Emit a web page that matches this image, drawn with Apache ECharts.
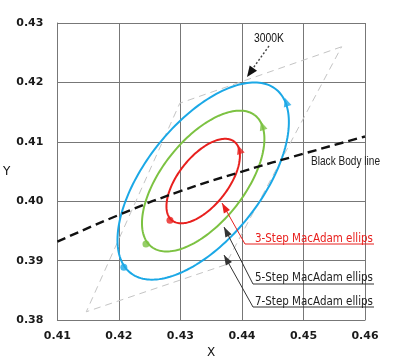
<!DOCTYPE html>
<html>
<head>
<meta charset="utf-8">
<script src="https://cdn.jsdelivr.net/npm/echarts@6/dist/echarts.min.js"></script>
<style>html,body{margin:0;padding:0;background:#fff}#c{width:400px;height:364px}</style>
</head>
<body>
<div id="c"></div>
<script>
// ---- data ----
const xTicks = [0.41, 0.42, 0.43, 0.44, 0.45, 0.46];
const yTicks = [0.38, 0.39, 0.40, 0.41, 0.42, 0.43];
const ellipseNames = ['3-Step', '5-Step', '7-Step'];
const ellipseCenterX = [0.4337, 0.4337, 0.4337];
const ellipseCenterY = [0.4034, 0.4034, 0.4034];
const ellipseMajor = [0.00834, 0.0139, 0.01946];
const ellipseMinor = [0.00408, 0.0068, 0.00952];
const ellipseAngle = [53.2, 53.2, 53.2];
const dotX = [0.4283, 0.4244, 0.4208];
const dotY = [0.3968, 0.3928, 0.3889];
const arrowX = [0.4396, 0.4433, 0.4472];
const arrowY = [0.4087, 0.4127, 0.4167];
const bbX = [0.41, 0.42, 0.43, 0.44, 0.45, 0.46];
const bbY = [0.3932, 0.3977, 0.4017, 0.4050, 0.4080, 0.4109];
const quadX = [0.4562, 0.4299, 0.4147, 0.4373, 0.4562];
const quadY = [0.4260, 0.4165, 0.3814, 0.3893, 0.4260];

// ---- styles ----
const ellColors = ['#e8201e', '#7cc242', '#1ba8e6'];
const measureCtx = document.createElement('canvas').getContext('2d');

function arrowHead(tip, from, len, hw) {
  const dx = tip[0] - from[0], dy = tip[1] - from[1];
  const L = Math.sqrt(dx * dx + dy * dy);
  const ux = dx / L, uy = dy / L;
  const bx = tip[0] - ux * len, by = tip[1] - uy * len;
  return [tip, [bx - uy * hw, by + ux * hw], [bx + uy * hw, by - ux * hw]];
}
function leader(tip, elbow, end, color) {
  return [
    { type: 'polyline', z: 100, shape: { points: [tip, elbow, end] }, style: { stroke: color, lineWidth: 1, fill: null } },
    { type: 'polygon', z: 101, shape: { points: arrowHead(tip, elbow, 10, 3.5) }, style: { fill: color } }
  ];
}
function label(text, x, y, color, width, font) {
  measureCtx.font = font;
  const sx = width / measureCtx.measureText(text).width;
  return { type: 'text', z: 102, x: x, y: y, scaleX: sx,
    style: { text: text, x: 0, y: 0, font: font, fill: color, align: 'left', verticalAlign: 'middle' } };
}

const ellipseData = ellipseNames.map((n, i) => [ellipseCenterX[i], ellipseCenterY[i], ellipseMajor[i], ellipseMinor[i], ellipseAngle[i]]);

const annFont = '12.5px "DejaVu Sans", sans-serif';
const lightFont = '13px "Liberation Sans", Arial, sans-serif';

const graphics = [].concat(
  [
    { type: 'line', z: 100, shape: { x1: 269, y1: 46, x2: 251, y2: 71 }, style: { stroke: '#444', lineWidth: 1.4, lineDash: [2, 2] } },
    { type: 'polygon', z: 101, shape: { points: arrowHead([247, 77], [269, 46], 11, 4.5) }, style: { fill: '#111' } },
    label('3000K', 254, 38, '#111', 30, lightFont),
    label('Black Body line', 311, 161, '#222', 69, lightFont)
  ],
  leader([222, 203], [245, 244], [374, 244], '#e8201e'),
  leader([224, 227], [253, 284], [374, 284], '#333'),
  leader([224, 255], [253, 307], [374, 307], '#333'),
  [
    label('3-Step MacAdam ellips', 255, 238.5, '#e8201e', 118, annFont),
    label('5-Step MacAdam ellips', 255, 278, '#222', 118, annFont),
    label('7-Step MacAdam ellips', 255, 301.5, '#222', 118, annFont)
  ]
);

const tickFont = { fontSize: 11, fontWeight: 'bold', color: '#1a1a1a', fontFamily: 'DejaVu Sans' };

const chart = echarts.init(document.getElementById('c'), null, { renderer: 'canvas' });
chart.setOption({
  animation: false,
  backgroundColor: '#fff',
  grid: { left: 56, right: 35, top: 23, bottom: 43 },
  xAxis: {
    type: 'value', min: xTicks[0], max: xTicks[xTicks.length - 1], interval: 0.01,
    name: 'X', nameLocation: 'middle', nameGap: 21,
    nameTextStyle: { fontSize: 12, color: '#111', fontFamily: 'DejaVu Sans' },
    axisLine: { show: true, lineStyle: { color: '#777', width: 1 } },
    axisTick: { show: false },
    splitLine: { show: true, lineStyle: { color: '#777', width: 1 } },
    axisLabel: Object.assign({ margin: 11, formatter: v => v.toFixed(2) }, tickFont)
  },
  yAxis: {
    type: 'value', min: yTicks[0], max: yTicks[yTicks.length - 1], interval: 0.01,
    name: 'Y', nameLocation: 'middle', nameGap: 27, nameRotate: 0,
    nameTextStyle: { fontSize: 12, color: '#111', fontFamily: 'DejaVu Sans' },
    axisLine: { show: true, lineStyle: { color: '#777', width: 1 } },
    axisTick: { show: false },
    splitLine: { show: true, lineStyle: { color: '#777', width: 1 } },
    axisLabel: Object.assign({ margin: 14, formatter: v => v.toFixed(2) }, tickFont)
  },
  series: [
    {
      type: 'line', name: 'quad', z: 2, symbol: 'none', silent: true,
      data: quadX.map((x, i) => [x, quadY[i]]),
      lineStyle: { color: '#c4c4c4', width: 1, type: [7, 5] }
    },
    {
      type: 'custom', name: 'ellipses', z: 3, silent: true,
      data: ellipseData,
      encode: { x: 0, y: 1 },
      renderItem: function (params, api) {
        const cx = api.value(0), cy = api.value(1), a = api.value(2), b = api.value(3);
        const t0 = api.value(4) * Math.PI / 180;
        const pts = [];
        const N = 180;
        for (let k = 0; k <= N; k++) {
          const t = k / N * Math.PI * 2;
          const x = cx + a * Math.cos(t0) * Math.cos(t) - b * Math.sin(t0) * Math.sin(t);
          const y = cy + a * Math.sin(t0) * Math.cos(t) + b * Math.cos(t0) * Math.sin(t);
          pts.push(api.coord([x, y]));
        }
        return { type: 'polyline', shape: { points: pts }, style: { stroke: ellColors[params.dataIndex], lineWidth: 2, fill: null } };
      }
    },
    {
      type: 'line', name: 'Black Body line', z: 5, symbol: 'none', smooth: true, silent: true,
      data: bbX.map((x, i) => [x, bbY[i]]),
      lineStyle: { color: '#111', width: 2.4, type: [9, 5] }
    },
    {
      type: 'scatter', name: 'dots', z: 6, silent: true, symbol: 'circle', symbolSize: 7,
      data: dotX.map((x, i) => ({ value: [x, dotY[i]], itemStyle: { color: ellColors[i] } }))
    },
    {
      type: 'scatter', name: 'arrows', z: 6, silent: true, symbol: 'triangle', symbolSize: [8, 9], symbolRotate: 18,
      data: arrowX.map((x, i) => ({ value: [x, arrowY[i]], itemStyle: { color: ellColors[i] } }))
    }
  ],
  graphic: graphics
});
</script>
</body>
</html>
